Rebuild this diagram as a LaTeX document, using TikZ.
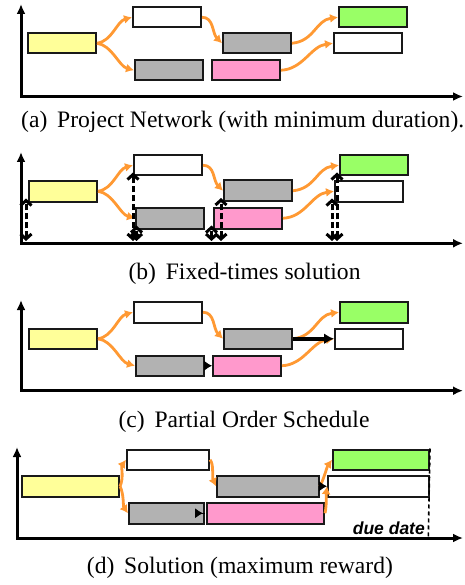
\documentclass[tikz,border=0pt]{standalone}
\usepackage{fontspec}
\setmainfont{Liberation Serif}
\setsansfont{Liberation Sans}
\usetikzlibrary{arrows.meta,calc}
\definecolor{deporange}{HTML}{FF9933}
\definecolor{tyel}{HTML}{FFFF99}
\definecolor{tgray}{HTML}{B2B2B2}
\definecolor{tpink}{HTML}{FF99CC}
\definecolor{tgreen}{HTML}{99FF66}
\begin{document}
\begin{tikzpicture}[x=1pt,y=-1pt,
  task/.style={draw=black!90,line width=2pt,inner sep=0pt,minimum width=68pt,minimum height=20.5pt,anchor=north west},
  axisline/.style={line width=3pt,{Latex[length=10pt,width=9pt]}-{Latex[length=10pt,width=9pt]}},
  dep/.style={draw=deporange,line width=2.8pt,-{Latex[length=8pt,width=9pt]}},
  fix/.style={line width=3pt,dash pattern=on 6pt off 3pt,{Straight Barb[length=5pt,width=11pt]}-{Straight Barb[length=5pt,width=11pt]},shorten >=-4pt},
  prec/.style={line width=4pt,-{Latex[length=10pt,width=11pt]}},
  prechead/.style={line width=0.8pt,-{Latex[length=8pt,width=10pt]}},
  caption/.style={anchor=base west,inner sep=0pt,font=\fontsize{23.6}{28}\selectfont}]
\useasboundingbox (0,0) rectangle (464,585);

% ---------------- (a) ----------------
\coordinate (aY) at (21,4);
\coordinate (aO) at (21,96.5);
\coordinate (aX) at (463,96.5);
\draw[axisline] (aY) -- (aO) -- (aX);
\node[task,fill=tyel]   (a1) at (27,32) {};
\node[task,fill=white]  (a2) at (132,6) {};
\node[task,fill=tgray]  (a3) at (134,59) {};
\node[task,fill=tgray]  (a4) at (222,32) {};
\node[task,fill=tpink]  (a5) at (211,59) {};
\node[task,fill=tgreen] (a6) at (338,6) {};
\node[task,fill=white]  (a7) at (333,32) {};
\draw[dep] (a1.east) .. controls +(15,-2) and +(-15,4) .. (a2.west);
\draw[dep] (a1.east) .. controls +(15,2) and +(-15,-4) .. (a3.west);
\draw[dep] (a2.east) .. controls +(12,0) and +(-10,-10) .. (a4.west);
\draw[dep] (a4.east) .. controls +(22,-2) and +(-22,3) .. (a6.west);
\draw[dep] (a5.east) .. controls +(22,-1) and +(-22,3) .. (a7.west);
\node[caption] (capa) at (21,127.7) {(a)\, Project Network (with minimum duration).};

% ---------------- (b) ----------------
\coordinate (bY) at (21,152);
\coordinate (bO) at (21,243.3);
\coordinate (bX) at (463,243.3);
\draw[axisline] (bY) -- (bO) -- (bX);
\node[task,fill=tyel]   (b1) at (28,180) {};
\node[task,fill=white]  (b2) at (133,154) {};
\node[task,fill=tgray]  (b3) at (135,207) {};
\node[task,fill=tgray]  (b4) at (223,179.5) {};
\node[task,fill=tpink]  (b5) at (213,207) {};
\node[task,fill=tgreen] (b6) at (339,154) {};
\node[task,fill=white]  (b7) at (334,180) {};
\draw[dep] (b1.east) .. controls +(15,-2) and +(-15,4) .. (b2.west);
\draw[dep] (b1.east) .. controls +(15,2) and +(-15,-4) .. (b3.west);
\draw[dep] (b2.east) .. controls +(12,0) and +(-10,-10) .. (b4.west);
\draw[dep] (b4.east) .. controls +(22,-2) and +(-22,3) .. (b6.west);
\draw[dep] (b5.east) .. controls +(22,-1) and +(-22,3) .. (b7.west);
\coordinate (p1) at (26,241);
\coordinate (p2) at (133,241);
\coordinate (p3) at (136.5,241);
\coordinate (p4) at (211.5,241);
\coordinate (p5) at (221,241);
\coordinate (p6) at (332,241);
\coordinate (p7) at (337,241);
\draw[fix] (p1) -- (p1 |- b1.south);
\draw[fix] (p2) -- (p2 |- b2.south);
\draw[fix] (p3) -- (p3 |- b3.south);
\draw[fix] (p4) -- (p4 |- b5.south);
\draw[fix] (p5) -- (p5 |- b4.south);
\draw[fix] (p6) -- (p6 |- b7.south);
\draw[fix] (p7) -- (p7 |- b6.south);
\node[caption] (capb) at (128.3,279.3) {(b)\, Fixed-times solution};

% ---------------- (c) ----------------
\coordinate (cY) at (21,300);
\coordinate (cO) at (21,390.7);
\coordinate (cX) at (463,390.7);
\draw[axisline] (cY) -- (cO) -- (cX);
\node[task,fill=tyel]   (c1) at (28,327.5) {};
\node[task,fill=white]  (c2) at (133,301) {};
\node[task,fill=tgray]  (c3) at (135,354.5) {};
\node[task,fill=tgray]  (c4) at (223,327.5) {};
\node[task,fill=tpink]  (c5) at (212,354.5) {};
\node[task,fill=tgreen] (c6) at (339,301) {};
\node[task,fill=white]  (c7) at (334,327.5) {};
\draw[dep] (c1.east) .. controls +(15,-2) and +(-15,4) .. (c2.west);
\draw[dep] (c1.east) .. controls +(15,2) and +(-15,-4) .. (c3.west);
\draw[dep] (c2.east) .. controls +(12,0) and +(-10,-10) .. (c4.west);
\draw[dep] (c4.east) .. controls +(22,-2) and +(-22,3) .. (c6.west);
\draw[dep] (c5.east) .. controls +(22,-1) and +(-22,3) .. (c7.west);
\draw[prec] (c4.east) -- (c7.west);
\draw[prechead] (c3.east) -- (c5.west);
\node[caption] (capc) at (118.3,427.3) {(c)\, Partial Order Schedule};

% ---------------- (d) ----------------
\coordinate (dY) at (17,447);
\coordinate (dO) at (17,538);
\coordinate (dX) at (463,538);
\draw[axisline] (dY) -- (dO) -- (dX);
\node[task,fill=tyel,minimum width=97pt]    (d1) at (21,475) {};
\node[task,fill=white,minimum width=82pt]   (d2) at (126,448.5) {};
\node[task,fill=tgray,minimum width=75pt]   (d3) at (128,502) {};
\node[task,fill=tgray,minimum width=102pt]  (d4) at (216,475) {};
\node[task,fill=tpink,minimum width=117pt]  (d5) at (206,502) {};
\node[task,fill=tgreen,minimum width=96pt]  (d6) at (332,448.5) {};
\node[task,fill=white,minimum width=101pt]  (d7) at (327,475) {};
\draw[dep] (d1.east) .. controls +(4,-8) and +(-5,7) .. (d2.west);
\draw[dep] (d1.east) .. controls +(4,8) and +(-5,-7) .. (d3.west);
\draw[dep] (d2.east) .. controls +(4,4) and +(-4,-9) .. (d4.west);
\draw[dep] (d4.east) .. controls +(4,-8) and +(-5,7) .. (d6.west);
\draw[dep] (d5.east) .. controls +(2,-10) and +(-1,9) .. (d7.west);
\draw[prechead] (d4.east) -- (d7.west);
\draw[prechead,shorten >=3pt] (d3.east) -- (d5.west);
\coordinate (dd0) at (428.3,538);
\draw[line width=1.6pt,dash pattern=on 4pt off 3pt] (d6.north east) -- (dd0);
\node[anchor=base east,inner sep=0pt,font=\sffamily\bfseries\itshape\fontsize{17.5}{20}\selectfont] (ddl) at (425,534.3) {due date};
\node[caption] (capd) at (86.7,573.3) {(d)\, Solution (maximum reward)};
\end{tikzpicture}
\end{document}
